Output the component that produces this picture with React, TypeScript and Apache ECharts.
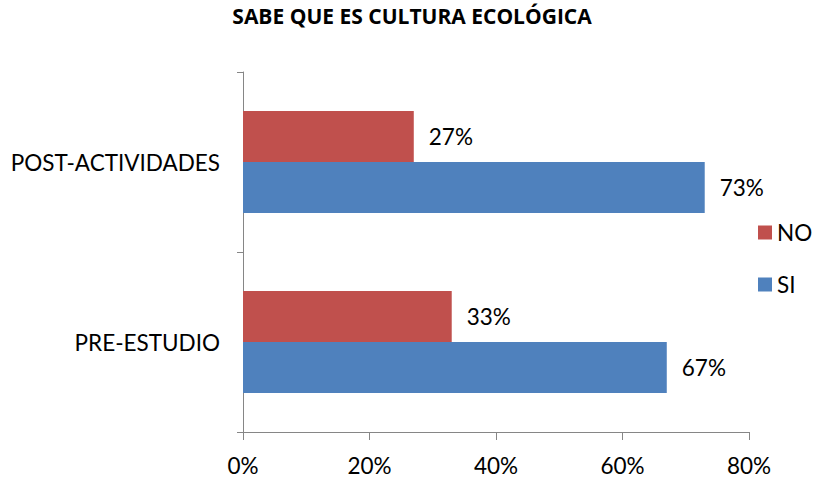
import React, { useEffect, useRef } from "react";
import * as echarts from "echarts";

const title = "SABE QUE ES CULTURA ECOLÓGICA";
const categories = ["PRE-ESTUDIO", "POST-ACTIVIDADES"];
const noValues = [33, 27];
const siValues = [67, 73];
const seriesNames = ["NO", "SI"];
const xTicks = { min: 0, max: 80, interval: 20 };

const FONT = "Lato, 'Noto Sans', sans-serif";
const FS = 22.5;

export default function App() {
  const ref = useRef<HTMLDivElement>(null);
  useEffect(() => {
    document.body.style.margin = "0";
    const chart = echarts.init(ref.current!, null, { renderer: "svg" });
    const label = {
      show: true,
      position: "right",
      distance: 15,
      formatter: "{c}%",
      color: "#000",
      fontSize: FS,
      fontFamily: FONT,
    };
    chart.setOption({
      animation: false,
      backgroundColor: "#fff",
      textStyle: { fontFamily: FONT },
      title: {
        text: title,
        left: 412,
        textAlign: "center",
        top: 5,
        padding: 0,
        textStyle: { fontSize: 21, fontWeight: "bold", color: "#000", fontFamily: "'Open Sans', sans-serif" },
      },
      legend: {
        orient: "vertical",
        left: 758,
        top: 221,
        padding: 0,
        itemWidth: 14,
        itemHeight: 14,
        itemGap: 29,
        icon: "rect",
        data: seriesNames,
        textStyle: { fontSize: FS, color: "#000", fontFamily: FONT },
      },
      grid: { left: 243, right: 67, top: 72, bottom: 46 },
      xAxis: {
        type: "value",
        min: xTicks.min,
        max: xTicks.max,
        interval: xTicks.interval,
        axisLine: { show: true, lineStyle: { color: "#868686", width: 1 } },
        axisTick: { show: true, length: 8, lineStyle: { color: "#868686" } },
        splitLine: { show: false },
        axisLabel: { formatter: "{value}%", fontSize: FS, color: "#000", margin: 22, fontFamily: FONT },
      },
      yAxis: {
        type: "category",
        data: categories,
        axisLine: { show: true, lineStyle: { color: "#868686", width: 1 } },
        axisTick: { show: true, length: 6, lineStyle: { color: "#868686" } },
        axisLabel: { fontSize: FS, color: "#000", margin: 23, fontFamily: FONT },
      },
      series: [
        {
          name: seriesNames[0],
          type: "bar",
          data: noValues,
          barWidth: 51,
          barGap: "0%",
          itemStyle: { color: "#C0504D" },
          label,
        },
        {
          name: seriesNames[1],
          type: "bar",
          data: siValues,
          barWidth: 51,
          barGap: "0%",
          itemStyle: { color: "#4F81BD" },
          label,
        },
      ],
    });
    return () => chart.dispose();
  }, []);
  return (
    <div
      ref={ref}
      style={{ position: "fixed", left: 0, top: 0, width: 816, height: 478 }}
    />
  );
}
